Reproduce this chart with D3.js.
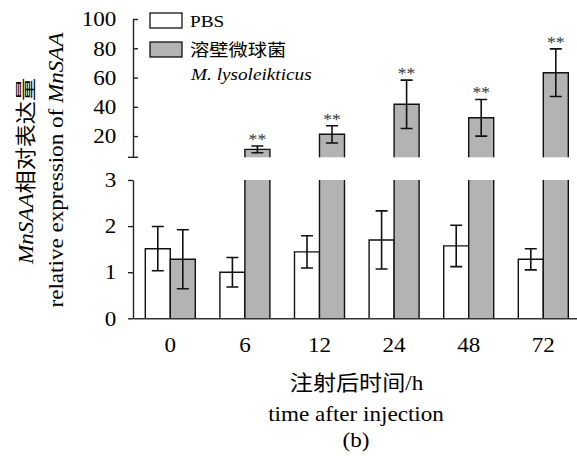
<!DOCTYPE html>
<html>
<head>
<meta charset="utf-8">
<script src="https://cdn.jsdelivr.net/npm/d3@7"></script>
<style>
  body { margin: 0; background: #fff; }
  text { font-family: "Liberation Serif", "Times New Roman", "Noto Sans CJK SC", serif; fill: #000; }
</style>
</head>
<body>
<div class="container"></div>
<script>
// data
const times = ['0', '6', '12', '24', '48', '72'];
const pbsMean = [1.51, 1.00, 1.44, 1.70, 1.57, 1.28];
const pbsErr = [0.48, 0.32, 0.35, 0.63, 0.45, 0.23];
const mlMean = [1.28, 10.9, 21.2, 41.7, 32.5, 63.3];
const mlErr = [0.64, 2.3, 5.9, 16.5, 12.5, 16.3];
const mlSig = ['', '**', '**', '**', '**', '**'];
const lowTicks = [0, 1, 2, 3];
const highTicks = [20, 40, 60, 80, 100];

const W = 577, H = 458;
const axisX = 133;
const sx = 1.1; // glyphs in the reference are a bit wider than tall
const barW = 25;
const capW = 12;

const svg = d3.select('.container')
              .append('svg')
              .attr('width', W)
              .attr('height', H);

// scales
const xScale = d3.scaleBand()
                 .domain(times)
                 .range([axisX, 580.6])
                 .padding(0);
const center = t => xScale(t) + xScale.bandwidth() / 2;

const yLow = d3.scaleLinear().domain([0, 3]).range([318.3, 180]);
const yHigh = d3.scaleLinear().domain([5.5, 100]).range([157.3, 19]);

const data = times.map((t, i) => ({
  t,
  pbs: pbsMean[i], pbsE: pbsErr[i],
  ml: mlMean[i], mlE: mlErr[i],
  sig: mlSig[i]
}));

const bars = svg.append('g').attr('class', 'bars');

function drawBar(x0, yTop, yBot, fill, openTop) {
  bars.append('rect')
      .attr('x', x0).attr('y', yTop)
      .attr('width', barW).attr('height', yBot - yTop)
      .attr('fill', fill);
  const p = openTop
    ? `M${x0},${yBot}V${yTop}M${x0 + barW},${yTop}V${yBot}`
    : `M${x0},${yBot}V${yTop}H${x0 + barW}V${yBot}`;
  bars.append('path')
      .attr('d', p)
      .attr('fill', 'none')
      .attr('stroke', '#111')
      .attr('stroke-width', 1.4);
}

function drawErr(cx, yHi, yLo) {
  bars.append('path')
      .attr('d', `M${cx},${yHi}V${yLo}M${cx - capW / 2},${yHi}H${cx + capW / 2}M${cx - capW / 2},${yLo}H${cx + capW / 2}`)
      .attr('fill', 'none')
      .attr('stroke', '#111')
      .attr('stroke-width', 1.6);
}

data.forEach(d => {
  const c = center(d.t);
  // PBS bars
  drawBar(c - barW, yLow(d.pbs), yLow(0), '#fff', false);
  drawErr(c - barW / 2, yLow(d.pbs + d.pbsE), yLow(d.pbs - d.pbsE));

  // M. lysoleikticus bars, broken when above 3
  if (d.ml <= 3) {
    drawBar(c, yLow(d.ml), yLow(0), '#b3b3b3', false);
    drawErr(c + barW / 2, yLow(d.ml + d.mlE), yLow(d.ml - d.mlE));
  } else {
    drawBar(c, yLow(3), yLow(0), '#b3b3b3', true);
    drawBar(c, yHigh(d.ml), yHigh.range()[0], '#b3b3b3', false);
    drawErr(c + barW / 2, yHigh(d.ml + d.mlE), yHigh(d.ml - d.mlE));
  }

  if (d.sig) {
    const top = d.ml > 3 ? yHigh(d.ml + d.mlE) : yLow(d.ml + d.mlE);
    svg.append('text')
       .attr('transform', `translate(${c + barW / 2},${top - 1}) scale(${sx},1)`)
       .attr('text-anchor', 'middle')
       .style('font-size', '16px')
       .style('fill', '#333')
       .text(d.sig);
  }
});

// y axis, lower panel
const yLowAxis = d3.axisLeft(yLow)
                   .tickValues(lowTicks)
                   .tickSizeInner(5)
                   .tickSizeOuter(0)
                   .tickFormat(d3.format('d'));
const gLow = svg.append('g')
                .attr('transform', `translate(${axisX},0)`)
                .call(yLowAxis);

// y axis, upper panel (ticks point inward)
const yHighAxis = d3.axisLeft(yHigh)
                    .tickValues(highTicks)
                    .tickSizeInner(-5)
                    .tickSizeOuter(0)
                    .tickFormat(d3.format('d'));
const gHigh = svg.append('g')
                 .attr('transform', `translate(${axisX},0)`)
                 .call(yHighAxis);
gHigh.append('line')
     .attr('x1', -5).attr('x2', 5)
     .attr('y1', yHigh.range()[0]).attr('y2', yHigh.range()[0])
     .attr('stroke', '#222').attr('stroke-width', 1.4);

[gLow, gHigh].forEach(g => {
  g.select('.domain').attr('stroke', '#222').attr('stroke-width', 1.4);
  g.selectAll('.tick line').attr('stroke', '#222').attr('stroke-width', 1.4);
  g.selectAll('.tick text')
   .attr('x', -15.2)
   .attr('transform', `scale(${sx},1)`)
   .style('font-size', '21px')
   .style('fill', '#000');
});

// x axis
const xAxis = d3.axisBottom(xScale).tickSize(0);
const gX = svg.append('g')
              .attr('transform', `translate(0,${yLow(0)})`)
              .call(xAxis);
gX.select('.domain').attr('stroke', '#333').attr('stroke-width', 1.6);
gX.selectAll('.tick text')
  .attr('y', 18.8)
  .attr('transform', `scale(${sx},1)`)
  .style('font-size', '21px')
  .style('fill', '#000');

// axis titles
function label(x, y, rot, size) {
  return svg.append('text')
            .attr('transform', `translate(${x},${y})${rot ? ' rotate(-90)' : ''} scale(${sx},1)`)
            .attr('text-anchor', 'middle')
            .style('font-size', size + 'px');
}

const yl1 = label(33, 171, true, 21);
yl1.append('tspan').style('font-style', 'italic').text('MnSAA');
yl1.append('tspan').text('相对表达量');
const yl2 = label(63, 170, true, 21);
yl2.append('tspan').text('relative expression of ');
yl2.append('tspan').style('font-style', 'italic').text('MnSAA');

label(356.5, 390, false, 21).text('注射后时间/h');
label(356, 421, false, 21).text('time after injection');
label(356, 447, false, 21).text('(b)');

// legend
const legendItems = [
  { name: 'PBS', fill: '#fff' },
  { name: '溶壁微球菌', fill: '#b3b3b3' }
];
const legend = svg.append('g').attr('id', 'legend');
legendItems.forEach((it, i) => {
  legend.append('rect')
        .attr('x', 150).attr('y', 13 + i * 29)
        .attr('width', 32).attr('height', 15)
        .attr('fill', it.fill)
        .attr('stroke', '#111')
        .attr('stroke-width', 1.3);
  legend.append('text')
        .attr('transform', `translate(190,${i === 0 ? 26.5 : 56}) scale(${sx},1)`)
        .style('font-size', '17.5px')
        .text(it.name);
});
legend.append('text')
      .attr('transform', `translate(191,79.5) scale(${sx},1)`)
      .style('font-size', '17.5px')
      .style('font-style', 'italic')
      .text('M. lysoleikticus');
</script>
</body>
</html>
